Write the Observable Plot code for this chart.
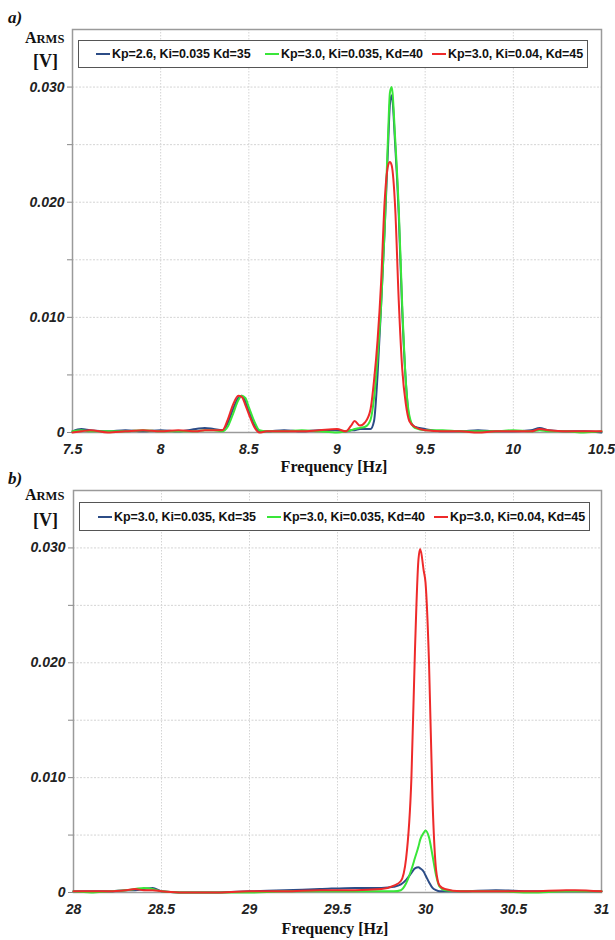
<!DOCTYPE html>
<html>
<head>
<meta charset="utf-8">
<script src="https://cdn.jsdelivr.net/npm/d3@7"></script>
<script src="https://cdn.jsdelivr.net/npm/@observablehq/plot@0.6"></script>
<style>
  body { margin: 0; background: #fff; }
  #root { position: relative; width: 615px; height: 940px; background: #fff; overflow: hidden; }
  #root svg { position: absolute; left: 0; }
  .t { position: absolute; white-space: nowrap; line-height: 1; color: #111; }
  .serif { font-family: "Liberation Serif", "Times New Roman", serif; font-weight: bold; }
  .legend { position: absolute; background: #fff; border: 1.5px solid #555; box-sizing: border-box; }
  .legend .item { position: absolute; top: 50%; transform: translateY(-50%); font: bold 12.5px "Liberation Sans", Arial, sans-serif; letter-spacing: -0.1px; color: #111; white-space: nowrap; }
  .legend .swatch { position: absolute; top: 50%; height: 2px; width: 14px; margin-top: -1px; }
</style>
</head>
<body>
<div id="root"></div>
<script>
// ---- Panel a: 7.5 – 10.5 Hz ----
const freqA = [7.5, 7.55, 7.6, 7.7, 7.8, 7.9, 8.0, 8.1, 8.2, 8.25, 8.3, 8.35, 8.38, 8.41, 8.44, 8.46, 8.48, 8.5, 8.53, 8.56, 8.6, 8.7, 8.8, 8.9, 9.0, 9.05, 9.08, 9.1, 9.13, 9.16, 9.19, 9.21, 9.23, 9.25, 9.27, 9.29, 9.3, 9.31, 9.33, 9.35, 9.37, 9.39, 9.41, 9.44, 9.5, 9.6, 9.7, 9.8, 9.9, 10.0, 10.1, 10.15, 10.2, 10.3, 10.4, 10.5];
const blueA  = [0.0001, 0.0003, 0.0002, 0.0001, 0.0002, 0.0001, 0.0002, 0.0001, 0.0003, 0.0004, 0.0003, 0.0002, 0.0008, 0.0020, 0.0030, 0.0032, 0.0027, 0.0019, 0.0007, 0.0001, 0.0001, 0.0002, 0.0001, 0.0002, 0.0002, 0.0001, 0.0002, 0.0002, 0.0003, 0.0003, 0.0003, 0.0010, 0.0050, 0.0110, 0.0175, 0.0250, 0.0285, 0.0293, 0.0250, 0.0190, 0.0105, 0.0045, 0.0012, 0.0005, 0.0003, 0.0001, 0.0001, 0.0002, 0.0001, 0.0001, 0.0002, 0.0004, 0.0002, 0.0001, 0.0001, 0.0000];
const greenA = [0.0001, 0.0002, 0.0001, 0.0001, 0.0001, 0.0002, 0.0001, 0.0001, 0.0001, 0.0002, 0.0002, 0.0001, 0.0005, 0.0016, 0.0028, 0.0032, 0.0030, 0.0022, 0.0010, 0.0002, 0.0001, 0.0001, 0.0002, 0.0001, 0.0000, 0.0001, 0.0002, 0.0003, 0.0004, 0.0005, 0.0011, 0.0030, 0.0065, 0.0110, 0.0175, 0.0260, 0.0295, 0.0300, 0.0255, 0.0195, 0.0110, 0.0045, 0.0015, 0.0004, 0.0002, 0.0002, 0.0001, 0.0001, 0.0001, 0.0002, 0.0001, 0.0002, 0.0001, 0.0001, 0.0000, 0.0001];
const redA   = [0.0000, 0.0001, 0.0002, 0.0000, 0.0001, 0.0002, 0.0001, 0.0002, 0.0001, 0.0002, 0.0002, 0.0002, 0.0011, 0.0024, 0.0032, 0.0031, 0.0024, 0.0016, 0.0005, 0.0000, 0.0001, 0.0001, 0.0001, 0.0002, 0.0003, 0.0001, 0.0006, 0.0010, 0.0006, 0.0009, 0.0020, 0.0045, 0.0080, 0.0130, 0.0200, 0.0232, 0.0235, 0.0232, 0.0195, 0.0115, 0.0055, 0.0025, 0.0010, 0.0005, 0.0002, 0.0001, 0.0001, 0.0000, 0.0001, 0.0001, 0.0001, 0.0003, 0.0002, 0.0001, 0.0001, 0.0001];
const namesA = ["Kp=2.6, Ki=0.035 Kd=35", "Kp=3.0, Ki=0.035, Kd=40", "Kp=3.0, Ki=0.04, Kd=45"];
const xTicksA = [7.5, 8, 8.5, 9, 9.5, 10, 10.5];
const xLabelsA = ["7.5", "8", "8.5", "9", "9.5", "10", "10.5"];

// ---- Panel b: 28 – 31 Hz ----
const freqB = [28.0, 28.1, 28.2, 28.3, 28.35, 28.4, 28.45, 28.5, 28.6, 28.8, 29.0, 29.2, 29.4, 29.6, 29.75, 29.82, 29.86, 29.89, 29.92, 29.94, 29.96, 29.97, 29.99, 30.0, 30.02, 30.04, 30.06, 30.08, 30.11, 30.2, 30.4, 30.6, 30.8, 30.85, 31.0];
const blueB  = [0.0001, 0.0001, 0.0001, 0.0002, 0.0002, 0.0003, 0.0004, 0.0001, 0.0000, 0.0000, 0.0001, 0.0002, 0.0003, 0.0004, 0.0004, 0.0005, 0.0007, 0.0011, 0.0017, 0.0021, 0.0022, 0.0021, 0.0018, 0.0015, 0.0009, 0.0004, 0.0002, 0.0001, 0.0001, 0.0001, 0.0002, 0.0001, 0.0001, 0.0001, 0.0001];
const greenB = [0.0001, 0.0000, 0.0001, 0.0002, 0.0003, 0.0004, 0.0003, 0.0001, 0.0000, 0.0000, 0.0000, 0.0001, 0.0001, 0.0001, 0.0001, 0.0001, 0.0002, 0.0008, 0.0020, 0.0030, 0.0040, 0.0046, 0.0052, 0.0054, 0.0048, 0.0032, 0.0015, 0.0005, 0.0002, 0.0001, 0.0001, 0.0000, 0.0001, 0.0001, 0.0001];
const redB   = [0.0001, 0.0001, 0.0001, 0.0002, 0.0003, 0.0002, 0.0002, 0.0001, 0.0000, 0.0000, 0.0001, 0.0001, 0.0002, 0.0002, 0.0003, 0.0006, 0.0010, 0.0030, 0.0100, 0.0210, 0.0290, 0.0299, 0.0280, 0.0270, 0.0200, 0.0080, 0.0020, 0.0006, 0.0003, 0.0001, 0.0001, 0.0001, 0.0002, 0.0002, 0.0001];
const namesB = ["Kp=3.0, Ki=0.035, Kd=35", "Kp=3.0, Ki=0.035, Kd=40", "Kp=3.0, Ki=0.04, Kd=45"];
const xTicksB = [28, 28.5, 29, 29.5, 30, 30.5, 31];
const xLabelsB = ["28", "28.5", "29", "29.5", "30", "30.5", "31"];

// ---- shared y axis ----
const yTicks = [0, 0.005, 0.01, 0.015, 0.02, 0.025, 0.03];
const yTickLabels = ["0", "", "0.010", "", "0.020", "", "0.030"];
const yGrid = [0.005, 0.01, 0.015, 0.02, 0.025, 0.03];
const seriesColors = ["#2c4c86", "#39e639", "#ee2a2a"];

function spectrum({freq, series, names, xDomain, xTicks, xLabels, top, marginTop, marginLeft, marginBottom, height}) {
  const rows = series.flatMap((vals, k) => freq.map((f, i) => ({f, v: vals[i], name: names[k]})));
  const yLab = new Map(yTicks.map((t, i) => [t, yTickLabels[i]]));
  const xLab = new Map(xTicks.map((t, i) => [t, xLabels[i]]));
  const svg = Plot.plot({
    width: 615,
    height,
    marginTop,
    marginLeft,
    marginRight: 14,
    marginBottom,
    style: {
      fontFamily: "'Liberation Sans', Arial, sans-serif",
      fontSize: "14px",
      fontWeight: "bold",
      fontStyle: "italic",
      color: "#222",
      background: "transparent"
    },
    x: {domain: xDomain},
    y: {domain: [0, 0.035]},
    color: {domain: names, range: seriesColors},
    marks: [
      Plot.gridX(xTicks, {stroke: "#d4d4d4", strokeOpacity: 1, strokeDasharray: "1.5,1.5"}),
      Plot.gridY(yGrid, {stroke: "#d4d4d4", strokeOpacity: 1, strokeDasharray: "2,1.5"}),
      Plot.frame({stroke: "#9a9a9a", strokeWidth: 1.5}),
      Plot.axisY(yTicks, {tickSize: 5, tickPadding: 3, stroke: "#888", tickFormat: d => yLab.get(d) ?? "", label: null}),
      Plot.axisX(xTicks, {tickSize: 0, tickPadding: 12, tickFormat: d => xLab.get(d) ?? "", label: null}),
      Plot.line(rows, {x: "f", y: "v", z: "name", stroke: "name", strokeWidth: 2, curve: "monotone-x"})
    ]
  });
  svg.style.top = top + "px";
  return svg;
}

const root = document.getElementById("root");

root.appendChild(spectrum({
  freq: freqA, series: [blueA, greenA, redA], names: namesA,
  xDomain: [7.5, 10.5], xTicks: xTicksA, xLabels: xLabelsA,
  top: 0, height: 470, marginTop: 29, marginLeft: 72, marginBottom: 38
}));
root.appendChild(spectrum({
  freq: freqB, series: [blueB, greenB, redB], names: namesB,
  xDomain: [28, 31], xTicks: xTicksB, xLabels: xLabelsB,
  top: 470, height: 470, marginTop: 20, marginLeft: 73, marginBottom: 48
}));

// text placed by baseline
function label(html, cls, left, baseline, size, extra = "") {
  const d = document.createElement("div");
  d.className = "t " + cls;
  d.innerHTML = html;
  d.style.cssText += `left:${left}px;top:${baseline - 0.84 * size}px;font-size:${size}px;${extra}`;
  root.appendChild(d);
  return d;
}
function centered(html, cls, cx, baseline, size) {
  return label(html, cls, cx, baseline, size, "transform:translateX(-50%);");
}

function legend(left, top, width, height, names, items) {
  const box = document.createElement("div");
  box.className = "legend";
  box.style.cssText = `left:${left}px;top:${top}px;width:${width}px;height:${height}px;`;
  names.forEach((n, k) => {
    const sw = document.createElement("div");
    sw.className = "swatch";
    sw.style.left = (items[k][0] - left) + "px";
    sw.style.background = seriesColors[k];
    box.appendChild(sw);
    const tx = document.createElement("div");
    tx.className = "item";
    tx.style.left = (items[k][1] - left) + "px";
    tx.textContent = n;
    box.appendChild(tx);
  });
  root.appendChild(box);
}

// Panel a annotations
label("a)", "serif", 8, 23, 17, "font-style:italic;");
label('A<span style="font-size:12.5px">RMS</span>', "serif", 25, 43, 16);
label("[V]", "serif", 33, 67, 18);
legend(78, 40, 510, 28, namesA, [[95, 111], [264, 280], [431, 447]]);
centered("Frequency [Hz]", "serif", 334, 472, 16);

// Panel b annotations
label("b)", "serif", 8, 484, 17, "font-style:italic;");
label('A<span style="font-size:12.5px">RMS</span>', "serif", 25, 500, 16);
label("[V]", "serif", 33, 526, 18);
legend(79, 502, 511, 29, namesB, [[97, 113], [266, 282], [433, 449]]);
centered("Frequency [Hz]", "serif", 335, 934, 16);
</script>
</body>
</html>
